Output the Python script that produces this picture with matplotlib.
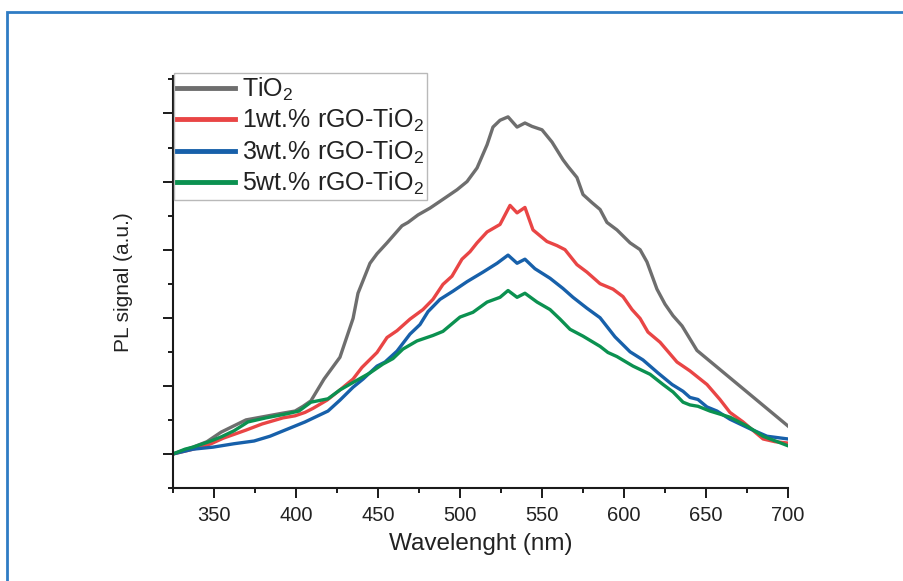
import numpy as np
import matplotlib
matplotlib.use('Agg')
import matplotlib.pyplot as plt
from matplotlib.patches import Rectangle
from matplotlib.ticker import MultipleLocator

plt.rcParams['font.family'] = ['Liberation Sans', 'DejaVu Sans']
plt.rcParams['mathtext.default'] = 'regular'

# Datos (longitud de onda en nm, senal PL en u.a.)
wl_tio2 = [325, 337.2, 345.7, 354.3, 369.5, 392.1, 399.4, 404.3, 409.1, 417.1, 426.8, 434.8,
           437.8, 445.1, 449.4, 455.5, 464.6, 468.3, 474.4, 481.7, 490.9, 498.2, 504.3, 510.4,
           516.5, 520.1, 524.4, 529.3, 534.8, 539.6, 543.9, 550.0, 556.1, 562.8, 565.9, 571.3,
           575.0, 580.5, 585.4, 589.6, 595.7, 603.7, 609.8, 614.0, 620.1, 625.0, 629.9, 635.4,
           644.5, 700]
pl_tio2 = [0, 0.10, 0.18, 0.32, 0.50, 0.60, 0.63, 0.70, 0.78, 1.10, 1.42, 1.99,
           2.36, 2.80, 2.94, 3.10, 3.35, 3.40, 3.51, 3.61, 3.76, 3.88, 4.00, 4.20,
           4.54, 4.80, 4.90, 4.95, 4.80, 4.86, 4.81, 4.76, 4.58, 4.32, 4.22, 4.06,
           3.81, 3.69, 3.59, 3.40, 3.29, 3.10, 3.00, 2.82, 2.42, 2.20, 2.03, 1.88,
           1.52, 0.41]

wl_1wt = [325, 337.2, 348.2, 355.5, 369.5, 379.3, 392.1, 399.4, 405.5, 410.4, 418.9, 426.8,
          434.8, 440.2, 449.4, 455.5, 461.6, 469.5, 477.4, 483.5, 489.6, 495.1, 501.2, 506.1,
          510.4, 516.5, 524.4, 530.5, 534.8, 539.6, 544.5, 553.0, 559.1, 564.0, 571.3, 577.4,
          585.4, 593.3, 599.4, 604.9, 609.8, 614.6, 622.0, 632.3, 640.2, 650.6, 658.5, 664.6,
          672.6, 684.8, 692.1, 700]
pl_1wt = [0, 0.07, 0.15, 0.23, 0.35, 0.44, 0.53, 0.56, 0.61, 0.67, 0.79, 0.94,
          1.10, 1.27, 1.49, 1.71, 1.81, 1.98, 2.12, 2.27, 2.49, 2.61, 2.86, 2.97,
          3.10, 3.26, 3.37, 3.65, 3.54, 3.62, 3.29, 3.12, 3.06, 3.00, 2.78, 2.67,
          2.50, 2.42, 2.31, 2.12, 1.99, 1.79, 1.64, 1.35, 1.22, 1.02, 0.80, 0.61,
          0.47, 0.22, 0.18, 0.16]

wl_3wt = [325, 337.2, 349.4, 362.2, 374.4, 384.1, 399.4, 405.5, 419.5, 426.8, 434.8, 440.9,
          449.4, 454.3, 461.6, 469.5, 475.6, 480.5, 487.8, 495.7, 504.3, 514.0, 522.6, 529.3,
          534.8, 539.6, 545.7, 554.9, 562.8, 568.9, 577.4, 585.4, 594.5, 603.7, 611.6, 620.7,
          629.3, 636.0, 640.2, 645.1, 650.6, 656.7, 664.6, 676.8, 687.2, 700]
pl_3wt = [0, 0.07, 0.10, 0.15, 0.19, 0.26, 0.41, 0.47, 0.63, 0.79, 0.98, 1.10,
          1.29, 1.35, 1.51, 1.76, 1.90, 2.09, 2.27, 2.39, 2.53, 2.67, 2.80, 2.92,
          2.80, 2.86, 2.72, 2.58, 2.43, 2.30, 2.14, 2.00, 1.72, 1.50, 1.38, 1.19,
          1.02, 0.92, 0.83, 0.80, 0.69, 0.63, 0.51, 0.37, 0.26, 0.22]

wl_5wt = [325, 332.3, 337.2, 347.0, 354.3, 362.2, 370.7, 381.7, 394.5, 401.8, 409.1, 419.5,
          426.8, 434.8, 445.1, 453.0, 459.1, 465.2, 473.8, 483.5, 489.6, 500.0, 507.9, 516.5,
          524.4, 529.3, 534.8, 539.6, 547.0, 554.9, 561.0, 567.1, 575.0, 585.4, 590.2, 595.7,
          605.5, 615.9, 623.8, 629.9, 636.0, 640.2, 645.1, 652.4, 664.6, 675.0, 684.8, 700]
pl_5wt = [0, 0.07, 0.10, 0.18, 0.25, 0.34, 0.47, 0.53, 0.59, 0.63, 0.76, 0.81,
          0.94, 1.05, 1.19, 1.32, 1.40, 1.54, 1.66, 1.74, 1.80, 2.01, 2.08, 2.23,
          2.30, 2.40, 2.30, 2.36, 2.23, 2.12, 1.98, 1.83, 1.73, 1.58, 1.49, 1.43,
          1.29, 1.17, 1.02, 0.91, 0.76, 0.72, 0.70, 0.63, 0.54, 0.41, 0.26, 0.12]

series = [
    (wl_tio2, pl_tio2, 'TiO$_2$', '#6e6e6e'),
    (wl_1wt, pl_1wt, '1wt.% rGO-TiO$_2$', '#e94545'),
    (wl_3wt, pl_3wt, '3wt.% rGO-TiO$_2$', '#1760aa'),
    (wl_5wt, pl_5wt, '5wt.% rGO-TiO$_2$', '#0b9150'),
]

fig = plt.figure(figsize=(9.04, 5.81), dpi=100)
ax = fig.add_axes([173 / 904, 1 - 488 / 581, 615 / 904, 412 / 581])

for x, y, lab, col in series:
    ax.plot(x, y, color=col, lw=2.4, label=lab, solid_joinstyle='round')

ax.set_xlim(325, 700)
ax.set_ylim(-0.48, 5.55)

ax.spines['top'].set_visible(False)
ax.spines['right'].set_visible(False)
for s in ['left', 'bottom']:
    ax.spines[s].set_linewidth(1.5)
    ax.spines[s].set_color('#1a1a1a')

ax.xaxis.set_major_locator(MultipleLocator(50))
ax.xaxis.set_minor_locator(MultipleLocator(25))
ax.set_xticks(np.arange(350, 701, 50))
ax.set_yticks(np.arange(0, 6, 1))
ax.set_yticks(np.arange(-0.5, 5.6, 1), minor=True)
ax.set_yticklabels([])
ax.tick_params(which='major', length=7, width=1.4, color='#1a1a1a', labelsize=14.5, pad=6)
ax.tick_params(which='minor', length=3.8, width=1.4, color='#1a1a1a')
ax.tick_params(axis='x', labelcolor='#222222')

ax.set_xlabel('Wavelenght (nm)', fontsize=17.5, color='#222222', labelpad=6)
ax.set_ylabel('PL signal (a.u.)', fontsize=15, color='#222222', labelpad=16)

leg = ax.legend(loc='upper left', bbox_to_anchor=(0.002, 1.008), borderaxespad=0,
                fontsize=18, frameon=True, fancybox=False, handlelength=2.3,
                handletextpad=0.3, labelspacing=0.17, borderpad=0.12)
leg.get_frame().set_edgecolor('#a8a8a8')
leg.get_frame().set_linewidth(1.0)
for h in leg.get_lines():
    h.set_linewidth(3.5)
for t in leg.get_texts():
    t.set_color('#222222')

# marco azul de la figura
fig.add_artist(Rectangle((7 / 904, -0.1), 1.2, 1.1 - 12 / 581, transform=fig.transFigure,
                         fill=False, edgecolor='#2f7cc4', linewidth=2))

fig.savefig('out.png', dpi=100)
